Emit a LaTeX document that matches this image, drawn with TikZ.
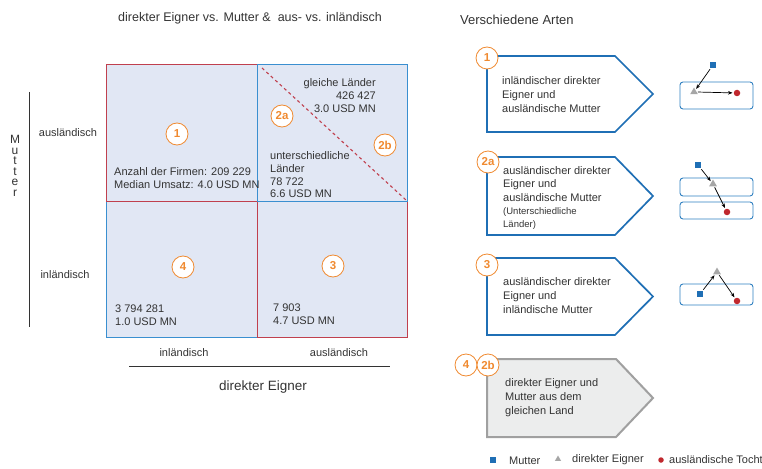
\documentclass[tikz,border=0pt]{standalone}
\usepackage{fontspec}
\setmainfont{Liberation Sans}
\usetikzlibrary{arrows.meta,shapes.geometric}
\definecolor{qfill}{HTML}{E1E7F4}
\definecolor{qred}{HTML}{C0404E}
\definecolor{qblue}{HTML}{3A8FD0}
\definecolor{pblue}{HTML}{1F6FB5}
\definecolor{sblue}{HTML}{2E7FC0}
\definecolor{orng}{HTML}{F08A30}
\definecolor{txtc}{HTML}{333333}
\definecolor{gfill}{HTML}{ECEDED}
\definecolor{gline}{HTML}{A0A0A0}
\definecolor{tgray}{HTML}{A6A6A6}
\definecolor{dred}{HTML}{C0282E}
\begin{document}
\begin{tikzpicture}[x=1pt,y=-1pt,
  every node/.style={text=txtc,inner sep=0pt},
  quad/.style={fill=qfill,line width=1pt},
  num/.style={circle,draw=orng,fill=white,line width=0.8pt,minimum size=22pt,text=orng,font=\fontsize{11.5}{13}\selectfont\bfseries},
  txt/.style={font=\fontsize{11}{12.7}\selectfont,align=left,anchor=west},
  ptxt/.style={font=\fontsize{11}{14.3}\selectfont,align=left,anchor=west},
  pent/.style={draw=pblue,fill=white,line width=1.7pt,line join=miter},
  sbox/.style={draw=sblue,rounded corners=3pt,line width=0.9pt},
  msq/.style={fill=pblue,minimum size=6.5pt},
  dtri/.style={regular polygon,regular polygon sides=3,fill=tgray,minimum size=9pt},
  tdot/.style={circle,fill=dred,minimum size=6.5pt},
  arr/.style={-{Stealth[length=4.5pt,width=3.5pt]},line width=0.7pt,shorten >=1pt,shorten <=1pt}
]
\useasboundingbox (0,0) rectangle (762,468);

% title
\node[font=\fontsize{12.5}{14}\selectfont] (title) at (250,18) {direkter Eigner vs. Mutter \&\ \ aus- vs. inländisch};
\node[font=\fontsize{13}{15}\selectfont,anchor=west] (title2) at (460,20) {Verschiedene Arten};

% quadrants
\draw[quad,draw=qblue] (106,201) rectangle (257,337);
\draw[quad,draw=qred] (106,65) rectangle (257,201);
\draw[quad,draw=qred] (257,201) rectangle (407,337);
\draw[quad,draw=qblue] (257,65) rectangle (407,201);
\coordinate (d1) at (262,68);
\coordinate (d2) at (406,200);
\draw[qred,line width=1.1pt,dash pattern=on 3pt off 3pt] (d1) -- (d2);

\node[num] (q1) at (177,134) {1};
\node[num] (q2a) at (282,116) {2a};
\node[num] (q2b) at (385,145) {2b};
\node[num] (q4) at (183,267) {4};
\node[num] (q3) at (333,266) {3};

\node[txt,align=right,anchor=east] (t2b) at (376,95.5) {gleiche Länder\\426 427\\3.0 USD MN};
\node[txt] (t2a) at (270,175) {unterschiedliche\\Länder\\78 722\\6.6 USD MN};
\node[txt] (t1) at (114,178) {Anzahl der Firmen: 209 229\\Median Umsatz: 4.0 USD MN};
\node[txt] (t4) at (115,315.5) {3 794 281\\1.0 USD MN};
\node[txt] (t3) at (273,314.5) {7 903\\4.7 USD MN};

% left axis
\coordinate (la) at (29,92);
\coordinate (lb) at (29,327);
\draw[line width=1pt,black!80] (la) -- (lb);
\node[font=\fontsize{12}{10.5}\selectfont,align=center] (mutter) at (15,166) {M\\u\\t\\t\\e\\r};
\node[font=\fontsize{11}{13}\selectfont] (ya) at (68,133) {ausländisch};
\node[font=\fontsize{11}{13}\selectfont] (yi) at (65,275) {inländisch};

% bottom axis
\node[font=\fontsize{11}{13}\selectfont] (xi) at (184,353) {inländisch};
\node[font=\fontsize{11}{13}\selectfont] (xa) at (339,353) {ausländisch};
\coordinate (ba) at (129,366);
\coordinate (bb) at (390,366);
\draw[line width=1pt,black!80] (ba) -- (bb);
\node[font=\fontsize{13.5}{15}\selectfont] (xl) at (263,387) {direkter Eigner};

% pentagon 1
\draw[pent] (487,56) -- (615,56) -- (653,94) -- (615,132) -- (487,132) -- cycle;
\node[num] (p1) at (487,58) {1};
\node[ptxt] (pt1) at (502,94.5) {inländischer direkter\\Eigner und\\ausländische Mutter};
\draw[sbox] (680,82) rectangle (753,109);
\node[msq] (s1) at (713,65) {};
\node[dtri] (r1) at (694,92) {};
\node[tdot] (c1) at (737,93) {};
\draw[arr] (s1) -- (r1);
\draw[arr] (r1.east) -- (c1);

% pentagon 2a
\draw[pent] (487,157) -- (615,157) -- (653,196) -- (615,235) -- (487,235) -- cycle;
\node[num] (p2a) at (488,162) {2a};
\node[font=\fontsize{11}{13.3}\selectfont,align=left,anchor=west] (pt2a) at (503,198) {ausländischer direkter\\Eigner und\\ausländische Mutter\\{\fontsize{9.5}{13.3}\selectfont (Unterschiedliche}\\{\fontsize{9.5}{13.3}\selectfont Länder)}};
\draw[sbox] (680,178) rectangle (753,196);
\draw[sbox] (680,202) rectangle (753,219);
\node[msq] (s2) at (698,165) {};
\node[dtri] (r2) at (713,184) {};
\node[tdot] (c2) at (727,212) {};
\draw[arr] (s2) -- (r2);
\draw[arr] (r2) -- (c2);

% pentagon 3
\draw[pent] (487,258) -- (615,258) -- (653,296.5) -- (615,335) -- (487,335) -- cycle;
\node[num] (p3) at (487,265) {3};
\node[ptxt] (pt3) at (503,295.5) {ausländischer direkter\\Eigner und\\inländische Mutter};
\draw[sbox] (680,284) rectangle (753,305);
\node[msq] (s3) at (700,294) {};
\node[dtri] (r3) at (717,272) {};
\node[tdot] (c3) at (737,301) {};
\draw[arr] (s3) -- (r3);
\draw[arr] (r3) -- (c3);

% pentagon 4/2b
\draw[draw=gline,fill=gfill,line width=2pt] (487,359) -- (616,359) -- (653,398) -- (616,437) -- (487,437) -- cycle;
\node[num] (p4) at (466,365) {4};
\node[num] (p2b) at (488,365) {2b};
\node[ptxt] (pt4) at (505,397.5) {direkter Eigner und\\Mutter aus dem\\gleichen Land};

% legend
\node[msq] (ls) at (493,460) {};
\node[font=\fontsize{11}{13}\selectfont,anchor=west] (lt1) at (509,461) {Mutter};
\node[dtri,minimum size=7pt] (lr) at (558,459) {};
\node[font=\fontsize{11}{13}\selectfont,anchor=west] (lt2) at (572,460) {direkter Eigner};
\node[tdot,minimum size=5.5pt] (lc) at (661,460) {};
\node[font=\fontsize{11}{13}\selectfont,anchor=west] (lt3) at (669,460) {ausländische Tochter};
\end{tikzpicture}
\end{document}
